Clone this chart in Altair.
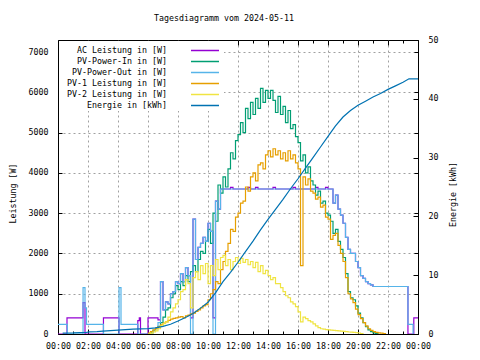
import altair as alt
import pandas as pd

FONT = "DejaVu Sans Mono"
FS = 8.3

NAMES = ["AC Leistung in [W]", "PV-Power-In in [W]", "PV-Power-Out in [W]",
         "PV-1 Leistung in [W]", "PV-2 Leistung in [W]", "Energie in [kWh]"]
COLORS = ["#9400D3", "#009E73", "#56B4E9", "#E69F00", "#F0E442", "#0072B2"]

# 10-minute reading grid for the daytime part, 06:00 ... 21:50 (hours)
day_hours = [6 + i / 6 for i in range(96)]

# ---- AC Leistung [W]
ac_night_t = [0.0, 0.6, 1.67, 1.8, 3.03, 4.07, 5.32, 5.42, 5.5]
ac_night_v = [0, 400, 780, 0, 400, 0, 330, 400, 0]
ac_day = [
    400, 400, 400, 400, 350, 1300,
    600, 800, 750, 1000, 1050, 1300,
    1250, 1500, 1300, 1650, 1450, 400,
    2850, 1850, 2150, 2250, 2400, 2300,
    2750, 2550, 400, 3300, 3100, 3600,
    3600, 3600, 3600, 3640, 3600, 3600,
    3600, 3600, 3600, 3600, 3640, 3600,
    3600, 3640, 3600, 3600, 3600, 3600,
    3600, 3600, 3640, 3600, 3600, 3600,
    3600, 3600, 3600, 3600, 3640, 3600,
    3600, 3600, 3600, 3600, 3600, 3600,
    3600, 3640, 3600, 3600, 3600, 3640,
    3600, 3600, 3250, 3450, 3100, 2950,
    2750, 2400, 2100, 2000, 2000, 1800,
    1650, 1450, 1380, 1300, 1250, 1220,
    1180, 1180, 1180, 1180, 1180, 1180,
]
ac_late_t = [22.0, 23.33, 23.72, 24.0]
ac_late_v = [1180, 0, 400, 400]

# ---- PV-Power-In [W]
pv_in_day = [
    0, 40, 90, 130, 190, 280,
    420, 600, 650, 900, 1000, 1200,
    1100, 1300, 1200, 1450, 1300, 1550,
    1700, 1550, 1850, 2050, 2000, 2300,
    2600, 2250, 3000, 2800, 3700, 3500,
    3900, 3650, 4100, 4500, 4350, 4800,
    4950, 5250, 5000, 5600, 5350, 5750,
    5450, 5850, 5600, 6100, 5750, 6050,
    5850, 6050, 5800, 5500, 5900, 5450,
    5650, 5250, 5550, 5100, 5200, 4900,
    4750, 4300, 4450, 4000, 4150, 3800,
    3700, 3450, 3550, 3250, 3300, 3000,
    2950, 2800, 2500, 2600, 2300, 2100,
    1900, 1500, 1050, 900, 850, 700,
    520, 400, 280, 180, 100, 60,
    30, 10, 0, 0, 0, 0,
]

# ---- PV-Power-Out [W]
pv_out_night_t = [0.0, 0.62, 1.67, 1.8, 1.9, 3.03, 4.07, 4.2, 5.33]
pv_out_night_v = [240, 0, 1150, 650, 240, 0, 1150, 240, 0]
pv_out_day = [
    0, 0, 80, 150, 280, 1300,
    600, 800, 750, 1000, 1050, 1300,
    1250, 1500, 1300, 1650, 1450, 0,
    2850, 1850, 2150, 2250, 2400, 2300,
    2750, 2550, 0, 3300, 3100, 3600,
    3600, 3600, 3600, 3600, 3600, 3600,
    3600, 3600, 3600, 3600, 3600, 3600,
    3600, 3600, 3600, 3600, 3600, 3600,
    3600, 3600, 3600, 3600, 3600, 3600,
    3600, 3600, 3600, 3600, 3600, 3600,
    3600, 3600, 3600, 3600, 3600, 3600,
    3600, 3600, 3600, 3600, 3600, 3600,
    3600, 3600, 3250, 3450, 3100, 2950,
    2750, 2400, 2100, 2000, 2000, 1800,
    1650, 1450, 1380, 1300, 1250, 1220,
    1180, 1180, 1180, 1180, 1180, 1180,
]
pv_out_late_t = [22.0, 23.33, 23.67]
pv_out_late_v = [1180, 240, 0]

# ---- PV-1 Leistung [W]
pv1_day = [
    20, 60, 100, 140, 180, 230,
    270, 300, 340, 370, 390, 400,
    420, 430, 400, 450, 470, 500,
    520, 560, 600, 650, 700, 730,
    850, 1000, 1100, 1300, 1250, 1600,
    1800, 2050, 2250, 2600, 2550, 2900,
    3000, 3250, 3300, 3650, 3550, 3900,
    4000, 3800, 4200, 4250, 4100, 4450,
    4550, 4400, 4600, 4450, 4550, 4350,
    4500, 4300, 4550, 4350, 4450, 4250,
    4100, 1700, 3900, 3700, 3850, 3550,
    3500, 3350, 3400, 3150, 3200, 2900,
    2850, 2350, 2450, 2500, 2200, 2000,
    1800, 1400, 1000, 870, 780, 620,
    480, 380, 280, 200, 130, 90,
    60, 40, 30, 20, 10, 0,
]

# ---- PV-2 Leistung [W]
pv2_day = [
    0, 20, 50, 80, 130, 200,
    260, 300, 420, 550, 650, 750,
    850, 1050, 1100, 1350, 1250, 650,
    1400, 1550, 1350, 1700, 1500, 1750,
    1250, 1700, 1450, 1850, 1600, 1900,
    1950, 1700, 1850, 1600, 1800, 1900,
    1750, 1880, 1780, 1850, 1720, 1800,
    1650, 1780, 1550, 1700, 1500, 1580,
    1450, 1350, 1400, 1250, 1250, 1150,
    1050, 950, 900, 800, 750, 680,
    550, 300, 420, 380, 330, 300,
    250, 200, 160, 130, 120, 110,
    100, 95, 90, 85, 80, 70,
    65, 60, 50, 45, 40, 35,
    25, 10, 0, 0, 0, 0,
    0, 0, 0, 0, 0, 0,
]

# ---- Energie [kWh] (right axis)
energy_t = [0.31, 1.0, 1.9, 2.1, 2.6, 3.0, 3.5, 4.0, 4.5, 5.0, 5.5, 6.0, 6.5, 7.0,
            7.5, 8.0, 8.5, 9.0, 9.5, 10.0, 10.5, 11.0, 11.5, 12.0, 12.5, 13.0,
            13.5, 14.0, 14.5, 15.0, 15.5, 16.0, 16.5, 17.0, 17.5, 18.0, 18.5,
            19.0, 19.5, 20.0, 20.5, 21.0, 21.5, 22.0, 22.5, 23.0, 23.4, 24.0]
energy_v = [0.15, 0.18, 0.27, 0.35, 0.42, 0.5, 0.58, 0.67, 0.76, 0.82, 0.87, 0.92,
            1.05, 1.3, 1.65, 2.2, 2.8, 3.5, 4.4, 5.4, 7.0, 8.9, 10.5, 12.2, 14.0,
            15.8, 17.7, 19.5, 21.2, 22.9, 24.7, 26.4, 28.2, 30.0, 31.8, 33.6, 35.4,
            36.9, 38.0, 38.9, 39.6, 40.3, 40.9, 41.6, 42.2, 42.8, 43.4, 43.4]

# axis tick positions
major_hours = list(range(0, 25, 2))
minor_hours = list(range(1, 24, 2))
power_ticks = list(range(0, 8000, 1000))
energy_ticks = [0, 10, 20, 30, 40, 50]


def trimmed(times, values):
    nz = [i for i, v in enumerate(values) if v > 0]
    a = max(nz[0] - 1, 0)
    b = min(nz[-1] + 1, len(values) - 1)
    return times[a:b + 1], values[a:b + 1]


def rows(name, times, values):
    return [{"series": name, "t": t, "v": v} for t, v in zip(times, values)]


left_rows = []
left_rows += rows(NAMES[0], ac_night_t + day_hours + ac_late_t, ac_night_v + ac_day + ac_late_v)
left_rows += rows(NAMES[1], *trimmed(day_hours, pv_in_day))
left_rows += rows(NAMES[2], pv_out_night_t + day_hours + pv_out_late_t,
                  pv_out_night_v + pv_out_day + pv_out_late_v)
left_rows += rows(NAMES[3], *trimmed(day_hours, pv1_day))
left_rows += rows(NAMES[4], *trimmed(day_hours, pv2_day))
left_df = pd.DataFrame(left_rows)
energy_df = pd.DataFrame(rows(NAMES[5], energy_t, energy_v))

xscale = alt.Scale(domain=[0, 24], nice=False, zero=False)
pscale = alt.Scale(domain=[0, 7300], nice=False)
escale = alt.Scale(domain=[0, 50], nice=False)

# gnuplot-style key: text first, line sample drawn to the right of it
# (symbol size 169 -> 13 px rows; the path sits 19..23 radii to the right)
color = alt.Color(
    "series:N",
    scale=alt.Scale(domain=NAMES, range=COLORS),
    legend=alt.Legend(
        title=None, orient="top-left", offset=1, padding=2,
        fillColor="white", symbolType="M18.85,0H23.15", symbolSize=169,
        symbolStrokeWidth=1.5, labelAlign="right", labelOffset=91,
        symbolOffset=0, rowPadding=0,
        labelFont=FONT, labelFontSize=FS, labelColor="black",
    ),
)

x_grid = alt.X("t:Q", scale=xscale, axis=alt.Axis(
    values=major_hours, grid=True, labels=False, ticks=False, domain=False,
    title=None, gridColor="#a0a0a0", gridDash=[2, 3], gridWidth=1))

y_left = alt.Y("v:Q", scale=pscale, axis=alt.Axis(
    values=power_ticks, format="d", grid=True, gridColor="#a0a0a0",
    gridDash=[2, 3], ticks=False, domain=True, domainColor="black",
    labelPadding=10, title="Leistung [W]", titleX=-45, titleY=153,
    titleBaseline="middle", titleAngle=270))

series_layers = []
for name in NAMES[:5]:
    series_layers.append(
        alt.Chart(left_df).transform_filter(alt.datum.series == name)
        .mark_line(interpolate="step-after", strokeWidth=1.2)
        .encode(x=x_grid, y=y_left, color=color)
    )
series_group = alt.layer(*series_layers)


def tick_axis(values, orient, size):
    return alt.Axis(values=values, orient=orient, offset=-size, tickSize=size,
                    ticks=True, tickColor="black", tickWidth=1, labels=False,
                    domain=False, grid=False, title=None)


def ytick_layer(scale, values, orient, size=4):
    return alt.Chart(energy_df).mark_point(opacity=0).encode(
        y=alt.Y("v:Q", scale=scale, axis=tick_axis(values, orient, size)))


def xtick_layer(values, orient, size):
    return alt.Chart(energy_df).mark_point(opacity=0).encode(
        x=alt.X("t:Q", scale=xscale, axis=tick_axis(values, orient, size)))


left_group = alt.layer(
    series_group,
    ytick_layer(pscale, power_ticks, "left"),
    ytick_layer(pscale, power_ticks, "right"),
).resolve_axis(y="independent")

energy = alt.Chart(energy_df).mark_line(strokeWidth=1.2).encode(
    x=alt.X("t:Q", scale=xscale, axis=alt.Axis(
        values=major_hours, grid=False, ticks=False, domain=True, domainColor="black",
        labelExpr="format(datum.value % 24, '02d') + ':00'", labelOverlap=False,
        labelFlush=False, labelPadding=7, title=None, zindex=1, orient="bottom")),
    y=alt.Y("v:Q", scale=escale, axis=alt.Axis(
        orient="right", values=energy_ticks, grid=False, ticks=False,
        domain=True, domainColor="black", labelPadding=10, title="Energie [kWh]",
        titleAngle=270, titleX=35, titleY=154, titleBaseline="middle")),
    color=color,
)

energy_group = alt.layer(
    energy, ytick_layer(escale, energy_ticks, "right", 5)
).resolve_axis(y="independent")

chart = (
    alt.layer(
        left_group, energy_group,
        xtick_layer(major_hours, "bottom", 5),
        xtick_layer(minor_hours, "bottom", 3),
        xtick_layer(major_hours, "top", 5),
        xtick_layer(minor_hours, "top", 3),
    )
    .resolve_scale(y="independent")
    .resolve_axis(x="independent")
    .properties(
        width=360, height=294,
        autosize=alt.AutoSizeParams(type="none"),
        padding={"left": 50, "top": 32, "right": 54, "bottom": 18},
        title=alt.TitleParams("Tagesdiagramm vom 2024-05-11", anchor="middle",
                              frame="group", dx=-14, offset=13, font=FONT,
                              fontSize=FS, fontWeight="normal", color="black"),
    )
    .configure_view(stroke="black", strokeWidth=1)
    .configure_axis(labelFont=FONT, labelFontSize=FS, labelColor="black",
                    titleFont=FONT, titleFontSize=FS, titleColor="black",
                    titleFontWeight="normal")
)

chart.save("out.html", embed_options={"renderer": "svg", "actions": False})
